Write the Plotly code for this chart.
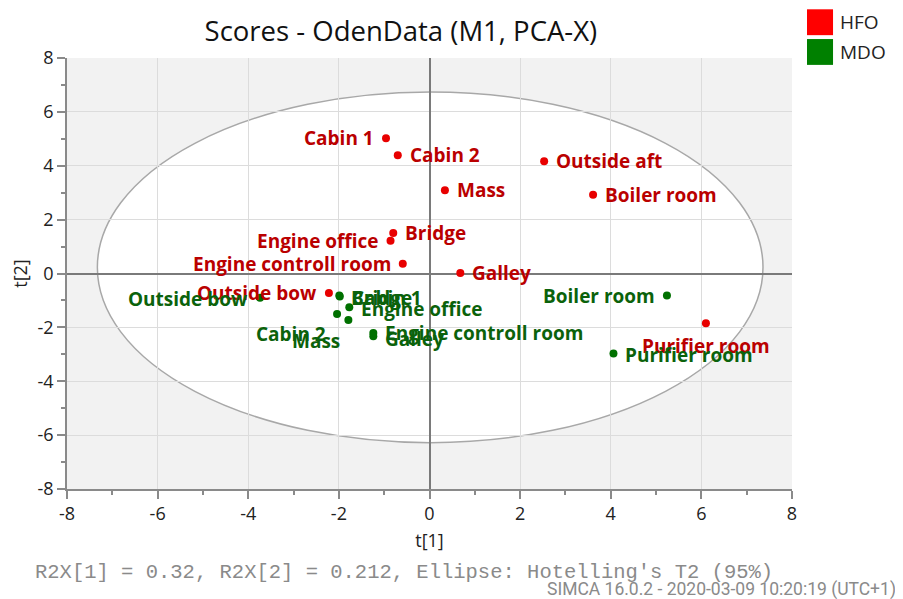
import plotly.graph_objects as go

# ---- data ----
hfo_names = ["Cabin 1", "Cabin 2", "Outside aft", "Mass", "Boiler room", "Bridge",
             "Engine office", "Engine controll room", "Galley", "Outside bow", "Purifier room"]
hfo_t1 = [-0.96, -0.70, 2.53, 0.34, 3.61, -0.80, -0.86, -0.59, 0.68, -2.22, 6.10]
hfo_t2 = [5.02, 4.39, 4.17, 3.09, 2.92, 1.50, 1.22, 0.36, 0.02, -0.72, -1.85]

mdo_names = ["Outside bow", "Bridge", "Cabin 1", "Engine office", "Cabin 2", "Mass",
             "Engine controll room", "Galley", "Boiler room", "Purifier room"]
mdo_t1 = [-3.74, -1.99, -1.98, -1.77, -2.04, -1.79, -1.24, -1.24, 5.24, 4.06]
mdo_t2 = [-0.90, -0.82, -0.85, -1.25, -1.50, -1.73, -2.21, -2.33, -0.82, -2.97]

ellipse_t1 = [-7.33, 7.36]
ellipse_t2 = [-6.28, 6.74]

tick_vals = [-8, -6, -4, -2, 0, 2, 4, 6, 8]
tick_text = ["-8", "-6", "-4", "-2", "0", "2", "4", "6", "8"]

# label placement (anchor, xshift px, yshift px) - styling only
hfo_lbl = [("right", -10, 0), ("left", 10, 0), ("left", 10, 0), ("left", 10, 0), ("left", 10, 0),
           ("left", 10, 0), ("right", -10, 0), ("right", -10, 0), ("left", 10, 0),
           ("right", -10, 0), ("center", 0, -23)]
mdo_lbl = [("right", -10, -1), ("left", 10, -2), ("left", 10, -2), ("left", 10, -2),
           ("right", -9, -20), ("center", -32, -21), ("left", 10, 0), ("left", 10, -3),
           ("right", -10, 0), ("left", 10, -1)]

HFO_M, HFO_T = "#E80000", "#BA0000"
MDO_M, MDO_T = "#007000", "#0B620B"
FONT = "Open Sans"

fig = go.Figure()
fig.add_trace(go.Scatter(x=hfo_t1, y=hfo_t2, mode="markers", name="HFO",
                         marker=dict(color=HFO_M, size=8), showlegend=False))
fig.add_trace(go.Scatter(x=mdo_t1, y=mdo_t2, mode="markers", name="MDO",
                         marker=dict(color=MDO_M, size=8), showlegend=False))

ann = []
for names, xs, ys, lbl, col in [(hfo_names, hfo_t1, hfo_t2, hfo_lbl, HFO_T),
                                (mdo_names, mdo_t1, mdo_t2, mdo_lbl, MDO_T)]:
    for n, x, y, (anc, dx, dy) in zip(names, xs, ys, lbl):
        ann.append(dict(x=x, y=y, text=n, showarrow=False, xanchor=anc, yanchor="middle",
                        xshift=dx, yshift=dy,
                        font=dict(family=FONT, size=19, color=col, weight="bold")))

# footer texts
ann.append(dict(xref="paper", yref="paper", x=-0.047, y=-0.193, xanchor="left", yanchor="middle",
                text="R2X[1] = 0.32, R2X[2] = 0.212, Ellipse: Hotelling's T2 (95%)", showarrow=False,
                font=dict(family="Liberation Mono", size=20.5, color="#8A8A8A")))
ann.append(dict(xref="paper", yref="paper", x=1.146, y=-0.234, xanchor="right", yanchor="middle",
                text="SIMCA 16.0.2 - 2020-03-09 10:20:19 (UTC+1)", showarrow=False,
                font=dict(family="Roboto", size=17.5, color="#8A8A8A")))
# custom legend
for i, (nm, col) in enumerate([("HFO", "#FF0000"), ("MDO", "#008000")]):
    ann.append(dict(xref="paper", yref="paper", x=1.064, y=1.083 - i * 0.069, xanchor="left",
                    yanchor="middle", text=nm, showarrow=False,
                    font=dict(family=FONT, size=19, color="#222222")))

shapes = [dict(type="circle", xref="x", yref="y", x0=ellipse_t1[0], x1=ellipse_t1[1],
               y0=ellipse_t2[0], y1=ellipse_t2[1], fillcolor="white",
               line=dict(color="#A8A8A8", width=1.5), layer="below")]
for i, col in enumerate(["#FF0000", "#008000"]):
    shapes.append(dict(type="rect", xref="paper", yref="paper",
                       x0=1.0207, x1=1.0566, y0=1.053 - i * 0.069, y1=1.113 - i * 0.069,
                       fillcolor=col, line=dict(width=0)))

axis_common = dict(range=[-8, 8], tickvals=tick_vals, ticktext=tick_text, showgrid=True,
                   gridcolor="#DCDCDC",
                   gridwidth=1, zeroline=True, zerolinecolor="#7A7A7A", zerolinewidth=2,
                   showline=True, linecolor="#8A8A8A", linewidth=1.5,
                   ticks="outside", ticklen=8, tickcolor="#8A8A8A", tickwidth=1.5,
                   tickfont=dict(family=FONT, size=18, color="#222222"),
                   minor=dict(dtick=1, ticks="outside", ticklen=4, tickcolor="#8A8A8A",
                              showgrid=False),
                   fixedrange=True, automargin=False)

fig.update_layout(
    width=895, height=591,
    margin=dict(l=59, r=111, t=50, b=110),
    paper_bgcolor="white", plot_bgcolor="#F2F2F2",
    title=dict(text="Scores - OdenData (M1, PCA-X)", x=0.439, xanchor="center", y=0.96,
               yanchor="middle", font=dict(family=FONT, size=27.5, color="#111111")),
    xaxis=dict(**axis_common, title=dict(text="t[1]", standoff=10,
                                          font=dict(family=FONT, size=18, color="#222222"))),
    yaxis=dict(**axis_common, title=dict(text="t[2]", standoff=10,
                                          font=dict(family=FONT, size=18, color="#222222"))),
    annotations=ann, shapes=shapes, showlegend=False,
)

fig.write_html("out.html")
